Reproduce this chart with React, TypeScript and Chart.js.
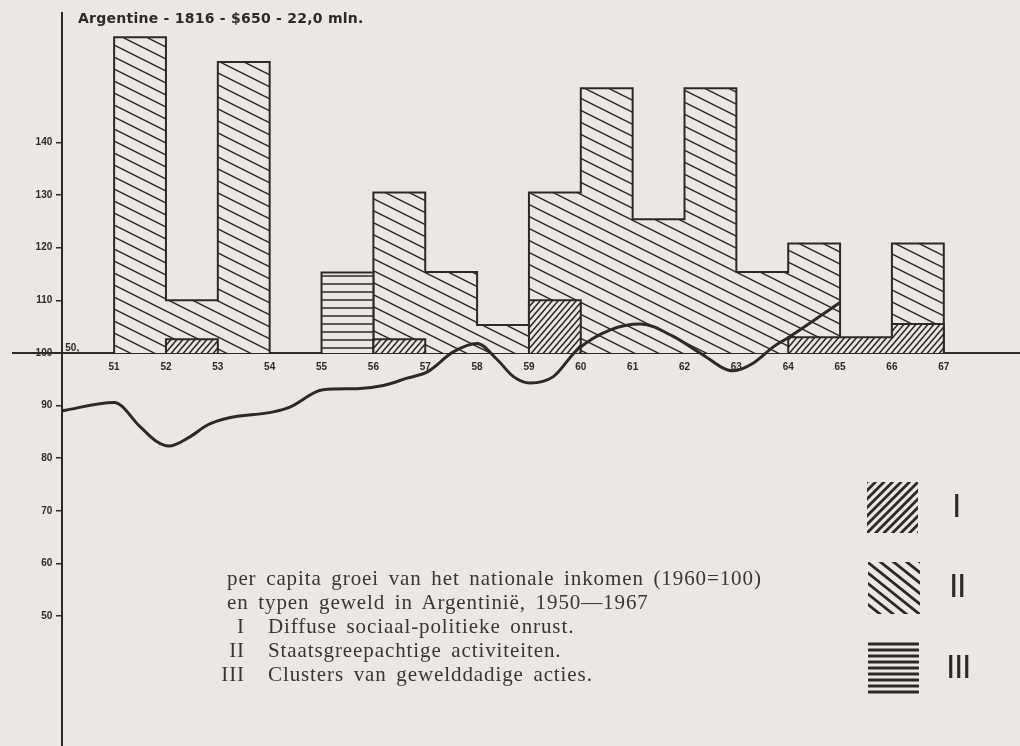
import React, { useEffect, useRef } from 'react';
import { Chart, registerables } from 'chart.js';

Chart.register(...registerables);

const PAPER = '#ece6e4';
const INK = '#2e2929';
const TEXT = '#3a3434';
const BASE = 100;

// bins: each value holds from the given year to the next one
const binYears = [1951, 1952, 1953, 1954, 1955, 1956, 1957, 1958, 1959, 1960, 1961, 1962, 1963, 1964, 1965, 1966];
const typeII = [160, 110, 155.3, null, null, 130.5, 115.4, 105.3, 130.5, 150.3, 125.4, 150.3, 115.4, 120.8, null, 120.8];
const typeIII = [null, null, null, null, 115.3, null, null, null, null, null, null, null, null, null, null, null];
const typeI = [null, 102.6, null, null, null, 102.6, null, null, 110, null, null, null, null, 103, 103, 105.5];

// per capita growth of national income (1960 = 100)
const growthYears = [1950, 1951, 1951.5, 1951.83, 1952.05, 1952.47, 1952.8, 1953.18, 1954.07, 1954.39, 1955.03, 1955.69, 1956.19, 1956.65, 1957.04, 1957.54, 1958, 1958.39, 1958.7, 1959.02, 1959.47, 1959.93, 1960.57, 1961.15, 1961.79, 1962.3, 1962.94, 1963.33, 1963.72, 1964, 1965];
const growthIndex = [89.0, 90.6, 86.0, 83.1, 82.3, 84.1, 86.3, 87.6, 88.8, 89.7, 93.0, 93.2, 93.8, 95.2, 96.4, 100.2, 101.8, 98.7, 95.5, 94.3, 95.5, 100.6, 104.4, 105.5, 103.1, 100.0, 96.6, 98.1, 101.2, 102.9, 109.6];

const xTickYears = [1951, 1952, 1953, 1954, 1955, 1956, 1957, 1958, 1959, 1960, 1961, 1962, 1963, 1964, 1965, 1966, 1967];
const yTickValues = [50, 60, 70, 80, 90, 100, 110, 120, 130, 140];

const titleText = 'Argentine - 1816 - $650 - 22,0 mln.';
const captionLines = ['per capita groei van het nationale inkomen (1960=100)', 'en typen geweld in Argentinië, 1950—1967'];
const legendNumerals = ['I', 'II', 'III'];
const legendTexts = ['Diffuse sociaal-politieke onrust.', 'Staatsgreepachtige activiteiten.', 'Clusters van gewelddadige acties.'];

function stepPoints(values: (number | null)[]) {
  const pts: { x: number; y: number | null }[] = [];
  values.forEach((v, i) => {
    if (v == null) return;
    const year = binYears[i];
    const prev = i > 0 ? values[i - 1] : null;
    const next = i < values.length - 1 ? values[i + 1] : null;
    if (prev == null) {
      if (pts.length) pts.push({ x: year - 0.5, y: null });
      pts.push({ x: year, y: BASE });
    }
    pts.push({ x: year, y: v });
    if (next == null) pts.push({ x: year + 1, y: BASE });
  });
  return pts;
}

function makeHatch(kind: 'I' | 'II' | 'III'): CanvasPattern {
  const c = document.createElement('canvas');
  let W = 8, H = 8;
  if (kind === 'II') { W = 24; H = 12; }
  else if (kind === 'I') { W = 6; H = 7; }
  c.width = W; c.height = H;
  const g = c.getContext('2d')!;
  g.fillStyle = PAPER;
  g.fillRect(0, 0, W, H);
  g.strokeStyle = INK;
  g.lineWidth = 1.5;
  g.beginPath();
  if (kind === 'III') {
    g.moveTo(0, H / 2); g.lineTo(W, H / 2);
  } else {
    for (let k = -1; k <= 1; k++) {
      if (kind === 'II') { g.moveTo(-W, k * H - H); g.lineTo(2 * W, k * H + 2 * H); }
      else { g.moveTo(-W, k * H + 2 * H); g.lineTo(2 * W, k * H - H); }
    }
  }
  g.stroke();
  return g.createPattern(c, 'repeat')!;
}

function hatchSquare(ctx: CanvasRenderingContext2D, x0: number, y0: number, w: number, h: number, kind: string) {
  ctx.save();
  ctx.beginPath();
  ctx.rect(x0, y0, w, h);
  ctx.clip();
  ctx.strokeStyle = INK;
  ctx.lineCap = 'round';
  ctx.lineWidth = kind === 'III' ? 3 : 2.8;
  ctx.beginPath();
  if (kind === 'III') {
    for (let y = y0 + 2; y < y0 + h; y += 6) { ctx.moveTo(x0 + 1, y); ctx.lineTo(x0 + w - 1, y); }
  } else if (kind === 'I') {
    for (let c = -w; c < w + h; c += 8.5) { ctx.moveTo(x0 + c, y0 + h); ctx.lineTo(x0 + c + h, y0); }
  } else {
    const s = 0.8;
    for (let c = -w; c < h + w; c += 10.5) { ctx.moveTo(x0, y0 + c); ctx.lineTo(x0 + w, y0 + c + s * w); }
  }
  ctx.stroke();
  ctx.restore();
}

const extrasPlugin = {
  id: 'extras',
  afterDraw(chart: any) {
    const ctx = chart.ctx as CanvasRenderingContext2D;
    const xs = chart.scales.x, ys = chart.scales.y;
    ctx.save();
    ctx.fillStyle = INK;
    ctx.font = 'bold 10px "Liberation Sans"';
    ctx.textAlign = 'left';
    ctx.textBaseline = 'alphabetic';
    ctx.fillText('50,', xs.getPixelForValue(1950) + 3, ys.getPixelForValue(BASE) - 2);
    ctx.restore();
    hatchSquare(ctx, 867, 482, 51, 51, 'I');
    hatchSquare(ctx, 868, 562, 52, 52, 'II');
    hatchSquare(ctx, 868, 642, 51, 55, 'III');
  },
};

export default function App() {
  const ref = useRef<HTMLCanvasElement>(null);
  useEffect(() => {
    const canvas = ref.current!;
    const pI = makeHatch('I');
    const pII = makeHatch('II');
    const pIII = makeHatch('III');
    const tickFont = { family: 'Liberation Sans', size: 10, weight: 'bold' as const };
    const chart = new Chart(canvas, {
      type: 'line',
      data: {
        datasets: [
          {
            label: 'groei',
            data: growthYears.map((x, i) => ({ x, y: growthIndex[i] })),
            borderColor: INK,
            borderWidth: 3,
            pointRadius: 0,
            cubicInterpolationMode: 'monotone',
            fill: false,
            order: 0,
          },
          {
            label: 'I',
            data: stepPoints(typeI) as any,
            stepped: true,
            borderColor: INK,
            borderWidth: 2,
            backgroundColor: pI,
            fill: { value: BASE },
            pointRadius: 0,
            order: 1,
          },
          {
            label: 'III',
            data: stepPoints(typeIII) as any,
            stepped: true,
            borderColor: INK,
            borderWidth: 2,
            backgroundColor: pIII,
            fill: { value: BASE },
            pointRadius: 0,
            order: 2,
          },
          {
            label: 'II',
            data: stepPoints(typeII) as any,
            stepped: true,
            borderColor: INK,
            borderWidth: 2,
            backgroundColor: pII,
            fill: { value: BASE },
            pointRadius: 0,
            order: 3,
          },
        ],
      },
      options: {
        responsive: false,
        animation: false,
        devicePixelRatio: 1,
        layout: { padding: { left: 13, top: 13, right: 0, bottom: 0 } },
        plugins: { legend: { display: false }, tooltip: { enabled: false }, title: { display: false } },
        scales: {
          x: {
            type: 'linear',
            min: 1949.05,
            max: 1968.47,
            position: { y: BASE } as any,
            afterBuildTicks: (s: any) => { s.ticks = xTickYears.map((v) => ({ value: v })); },
            afterFit: (s: any) => { s.paddingLeft = 0; s.paddingRight = 0; },
            ticks: {
              autoSkip: false,
              maxRotation: 0,
              padding: 0,
              color: INK,
              font: tickFont,
              callback: (v: any) => String(Number(v) - 1900),
            },
            grid: { display: false },
            border: { display: true, color: INK, width: 2 },
          },
          y: {
            type: 'linear',
            min: 25.3,
            max: 164.6,
            position: { x: 1950 } as any,
            afterBuildTicks: (s: any) => { s.ticks = yTickValues.map((v) => ({ value: v })); },
            afterFit: (s: any) => { s.paddingTop = 0; s.paddingBottom = 0; },
            ticks: { padding: 3, color: INK, font: tickFont, callback: (v: any) => String(v) + '\u2002\u2002' },
            grid: { drawOnChartArea: false, drawTicks: true, tickLength: 5, color: INK, lineWidth: 1.5 },
            border: { display: true, color: INK, width: 2 },
          },
        },
      },
      plugins: [extrasPlugin],
    } as any);
    return () => chart.destroy();
  }, []);

  const serif = { fontFamily: '"Liberation Serif", serif', fontSize: 21, letterSpacing: '0.9px', wordSpacing: '3.5px', color: TEXT, lineHeight: '24px', whiteSpace: 'nowrap' as const };
  return (
    <div style={{ position: 'fixed', left: 0, top: 0, width: 1020, height: 746, background: PAPER, overflow: 'hidden' }}>
      <canvas ref={ref} width={1020} height={746} style={{ position: 'absolute', left: 0, top: 0, display: 'block' }} />
      <div style={{ position: 'absolute', left: 78, top: 8, font: 'bold 14px "DejaVu Sans"', letterSpacing: '0.25px', color: INK, lineHeight: '20px', whiteSpace: 'nowrap' }}>{titleText}</div>
      {captionLines.map((t, i) => (
        <div key={'c' + i} style={{ ...serif, position: 'absolute', left: 227, top: 566 + i * 24 }}>{t}</div>
      ))}
      {legendTexts.map((t, i) => (
        <React.Fragment key={'l' + i}>
          <div style={{ ...serif, position: 'absolute', right: 1020 - 245, top: 614 + i * 24, textAlign: 'right' }}>{legendNumerals[i]}</div>
          <div style={{ ...serif, position: 'absolute', left: 268, top: 614 + i * 24 }}>{t}</div>
        </React.Fragment>
      ))}
      {legendNumerals.map((t, i) => (
        <div key={'n' + i} style={{ position: 'absolute', left: [952, 949, 946][i], top: [492, 572, 653][i], font: '32px "DejaVu Sans"', letterSpacing: '-1.5px', color: INK, lineHeight: '28px' }}>{t}</div>
      ))}
    </div>
  );
}
